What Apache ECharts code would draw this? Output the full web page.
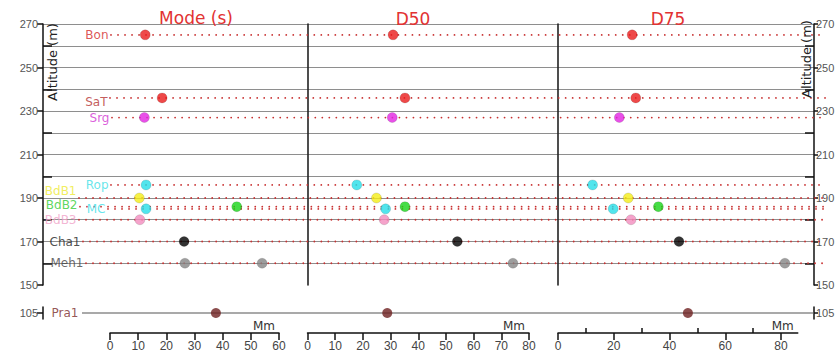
<!DOCTYPE html>
<html><head><meta charset="utf-8">
<script src="https://cdn.jsdelivr.net/npm/echarts@6/dist/echarts.min.js"></script>
<style>html,body{margin:0;padding:0;background:#fff}#c{width:838px;height:356px}</style>
</head><body><div id="c"></div>
<script>
// ---------------- DATA ----------------
const stations   = ['Bon','SaT','Srg','Rop','BdB1','BdB2','MC','BdB3','Cha1','Meh1'];
const altitudes  = [265, 236, 227, 196, 190, 186, 185, 180, 170, 160];
const modeValues = [12.5, 18.5, 12.2, 12.8, 10.4, 45.0, 12.8, 10.6, 26.3, 26.6];
const modeSecondStations = ['Meh1'];
const modeSecondValues   = [54.0];
const d50Values  = [30.9, 35.2, 30.6, 17.8, 24.9, 35.2, 28.2, 27.7, 54.1, 74.2];
const d75Values  = [26.6, 27.9, 22.0, 12.4, 25.2, 36.0, 19.8, 26.2, 43.4, 81.4];
const lowStation  = 'Pra1';
const lowAltitude = 105;
const lowValues   = [37.6, 28.8, 46.6];          // Mode, D50, D75
const panelTitles = ['Mode (s)', 'D50', 'D75'];
const altitudeTickLabels = [150, 170, 190, 210, 230, 250, 270];
const altitudeMinorTicks = [160, 180, 200, 220, 240, 260];
const modeAxisTicks = [0, 10, 20, 30, 40, 50, 60];
const d50AxisTicks  = [0, 10, 20, 30, 40, 50, 60, 70, 80];
const d75AxisLabels = [0, 20, 40, 60, 80];
const d75MinorTicks = [10, 30, 50, 70];
const xAxisName = 'Mm';
const yAxisName = 'Altitude (m)';

// ---------------- STYLE / LAYOUT ----------------
const DOT_COLORS   = ['#ea1c1c','#ea1c1c','#e224e2','#26dfe8','#f4ee18','#18d418','#26dfe8','#f28cbe','#000000','#848484'];
const LABEL_COLORS = ['#d42a2a','#b43232','#d234d2','#3fe0e6','#eeea34','#34cc34','#3fe0e8','#f0a2c8','#222222','#444444'];
const LOW_DOT_COLOR = '#6e2020', LOW_LABEL_COLOR = '#7a2a2a';
const GUIDE_START  = [68, 67, 69, 68, 36, 37, 65, 36, 40, 43]; // px from left axis
const LABEL_OFFSET = [[0,0],[0,4],[0,0],[0,0],[0,-7],[0,-2],[0,0],[0,0],[0,0],[0,0]];
const LOW_START = 39;
const FONT = 'DejaVu Sans';
const L = { axisLeft: 43, axisRight: 814, top: 24, bottom: 285, guideEnd: 826, lowTop: 307, lowHeight: 12, xAxisTop: 332 };
const PANELS = [
  { left: 43,    right: 307.5, zero: 110,   ppu: 169 / 60,   axisEnd: 60 },
  { left: 307.5, right: 556,   zero: 307.5, ppu: 221.5 / 80, axisEnd: 80 },
  { left: 556,   right: 814,   zero: 558,   ppu: 223 / 80,   axisEnd: 86 }
];
const TITLE_POS = [[196, 18], [413, 19], [668, 19]];
const TITLE_COLOR = '#e23232';

// ---------------- BUILD ----------------
const grids = [], xAxes = [], yAxes = [], series = [];
const H = L.bottom - L.top;
const altMin = altitudeTickLabels[0], altMax = altitudeTickLabels[altitudeTickLabels.length - 1];
const pxPerM = H / (altMax - altMin);
const hiddenX = (g, min, max) => { xAxes.push({ gridIndex: g, type: 'value', min, max, show: false }); return xAxes.length - 1; };
const hiddenY = (g, min, max) => { yAxes.push({ gridIndex: g, type: 'value', min, max, show: false }); return yAxes.length - 1; };
const addGrid = (g) => { grids.push(Object.assign({ containLabel: false }, g)); return grids.length - 1; };
const axisLineStyle = { color: '#111', width: 1.5 };

// split (grid) lines 160..270
const splitMin = altitudeMinorTicks[0];
const gSplit = addGrid({ left: L.axisLeft, top: L.top, width: L.axisRight - L.axisLeft, height: (altMax - splitMin) * pxPerM });
hiddenX(gSplit, 0, 1);
yAxes.push({ gridIndex: gSplit, type: 'value', min: splitMin, max: altMax, interval: 10,
  axisLine: { show: false }, axisTick: { show: false }, axisLabel: { show: false },
  splitLine: { show: true, lineStyle: { color: '#8e8e8e', width: 1 } } });

// guide dotted lines + station labels
const gGuide = addGrid({ left: L.axisLeft, top: L.top, width: L.guideEnd - L.axisLeft, height: H });
const xG = hiddenX(gGuide, 0, L.guideEnd - L.axisLeft);
const yG = hiddenY(gGuide, altMin, altMax);
stations.forEach((s, i) => {
  series.push({ type: 'line', xAxisIndex: xG, yAxisIndex: yG, symbol: 'none', silent: true, z: 3,
    lineStyle: { color: '#c83030', width: 1.8, type: [0.01, 7], cap: 'round' },
    data: [[GUIDE_START[i], altitudes[i]], [L.guideEnd - L.axisLeft, altitudes[i]]] });
});
series.push({ type: 'scatter', xAxisIndex: xG, yAxisIndex: yG, symbolSize: 1, z: 6, silent: true,
  itemStyle: { color: 'rgba(0,0,0,0)' },
  data: stations.map((s, i) => ({ value: [GUIDE_START[i], altitudes[i]],
    label: { show: true, position: 'left', distance: 2, formatter: s, color: LABEL_COLORS[i],
      fontFamily: FONT, fontSize: 12, lineHeight: 11, offset: LABEL_OFFSET[i] } })) });

// frame axes (left / right altitude)
const gFrame = addGrid({ left: L.axisLeft, top: L.top, width: L.axisRight - L.axisLeft, height: H });
hiddenX(gFrame, 0, 1);
const tickLabelStyle = { color: '#555', fontSize: 11, fontFamily: 'Liberation Sans' };
['left', 'right'].forEach(pos => {
  yAxes.push({ gridIndex: gFrame, type: 'value', position: pos, min: altMin, max: altMax,
    axisLine: { show: true, lineStyle: axisLineStyle },
    axisTick: { show: true, customValues: altitudeTickLabels, length: pos === 'left' ? 6 : 4, lineStyle: axisLineStyle },
    axisLabel: Object.assign({ customValues: altitudeTickLabels, margin: pos === 'left' ? 5 : 2 }, tickLabelStyle),
    splitLine: { show: false } });
  yAxes.push({ gridIndex: gFrame, type: 'value', position: pos, min: altMin, max: altMax,
    axisLine: { show: false },
    axisTick: { show: true, inside: true, customValues: altitudeMinorTicks, length: 9, lineStyle: axisLineStyle },
    axisLabel: { show: false }, splitLine: { show: false } });
});

// panels
const panelValues = [modeValues, d50Values, d75Values];
PANELS.forEach((p, k) => {
  const g = addGrid({ left: p.left, top: L.top, width: p.right - p.left, height: H });
  const xi = hiddenX(g, (p.left - p.zero) / p.ppu, (p.right - p.zero) / p.ppu);
  yAxes.push({ gridIndex: g, type: 'value', min: altMin, max: altMax, position: 'left',
    axisLine: { show: k > 0, lineStyle: { color: '#222', width: 1.6 } },
    axisTick: { show: false }, axisLabel: { show: false }, splitLine: { show: false } });
  const yi = yAxes.length - 1;
  const data = panelValues[k].map((v, i) => ({ value: [v, altitudes[i]], name: stations[i],
    itemStyle: { color: DOT_COLORS[i] } }));
  if (k === 0) {
    modeSecondStations.forEach((s, j) => {
      const i = stations.indexOf(s);
      data.push({ value: [modeSecondValues[j], altitudes[i]], name: s, itemStyle: { color: DOT_COLORS[i] } });
    });
  }
  series.push({ type: 'scatter', xAxisIndex: xi, yAxisIndex: yi, symbolSize: 10, z: 8, data,
    itemStyle: { borderColor: 'rgba(0,0,0,0.25)', borderWidth: 0.6 } });

  // low row (Pra1)
  const gl = addGrid({ left: p.left, top: L.lowTop, width: p.right - p.left, height: L.lowHeight });
  const xl = hiddenX(gl, (p.left - p.zero) / p.ppu, (p.right - p.zero) / p.ppu);
  const yl = hiddenY(gl, lowAltitude - 1, lowAltitude + 1);
  series.push({ type: 'scatter', xAxisIndex: xl, yAxisIndex: yl, symbolSize: 10, z: 8,
    data: [{ value: [lowValues[k], lowAltitude], name: lowStation, itemStyle: { color: LOW_DOT_COLOR } }] });

  // bottom Mm axes
  const gb = addGrid({ left: p.zero, top: L.xAxisTop, width: p.axisEnd * p.ppu, height: 1 });
  hiddenY(gb, 0, 1);
  const labelVals = k === 0 ? modeAxisTicks : (k === 1 ? d50AxisTicks : d75AxisLabels);
  xAxes.push({ gridIndex: gb, type: 'value', position: 'bottom', min: 0, max: p.axisEnd,
    name: xAxisName, nameLocation: 'end', nameGap: -4,
    nameTextStyle: { align: 'right', verticalAlign: 'bottom', color: '#333', fontSize: 12, fontFamily: FONT, padding: [0, 0, 1, 0] },
    axisLine: { show: true, lineStyle: axisLineStyle },
    axisTick: { show: true, customValues: labelVals, length: 7, lineStyle: axisLineStyle },
    axisLabel: { customValues: labelVals, color: '#444', fontSize: 12, fontFamily: 'Liberation Sans', margin: 7 },
    splitLine: { show: false } });
  if (k === 2) {
    xAxes.push({ gridIndex: gb, type: 'value', position: 'bottom', min: 0, max: p.axisEnd,
      axisLine: { show: false },
      axisTick: { show: true, inside: true, customValues: d75MinorTicks, length: 5, lineStyle: axisLineStyle },
      axisLabel: { show: false }, splitLine: { show: false } });
  }
});

// low frame (Pra1 line + 105 axes)
const gLow = addGrid({ left: L.axisLeft, top: L.lowTop, width: L.axisRight - L.axisLeft, height: L.lowHeight });
const xLow = hiddenX(gLow, 0, L.axisRight - L.axisLeft);
['left', 'right'].forEach(pos => {
  yAxes.push({ gridIndex: gLow, type: 'value', position: pos, min: lowAltitude - 1, max: lowAltitude + 1,
    axisLine: { show: true, lineStyle: axisLineStyle },
    axisTick: { show: true, customValues: [lowAltitude], length: pos === 'left' ? 6 : 4, lineStyle: axisLineStyle },
    axisLabel: Object.assign({ customValues: [lowAltitude], margin: pos === 'left' ? 5 : 2 }, tickLabelStyle),
    splitLine: { show: false } });
});
const yLow = yAxes.length - 1;
series.push({ type: 'line', xAxisIndex: xLow, yAxisIndex: yLow, symbol: 'none', silent: true, z: 3,
  lineStyle: { color: '#555', width: 1.2 },
  data: [[LOW_START, lowAltitude], [L.axisRight - L.axisLeft, lowAltitude]] });
series.push({ type: 'scatter', xAxisIndex: xLow, yAxisIndex: yLow, symbolSize: 1, z: 6, silent: true,
  itemStyle: { color: 'rgba(0,0,0,0)' },
  data: [{ value: [LOW_START, lowAltitude], label: { show: true, position: 'left', distance: 3,
    formatter: lowStation, color: LOW_LABEL_COLOR, fontFamily: FONT, fontSize: 12, lineHeight: 11 } }] });

// titles and axis names
const graphic = panelTitles.map((t, k) => ({ type: 'text', x: TITLE_POS[k][0], y: TITLE_POS[k][1], z: 20,
  style: { text: t, fill: TITLE_COLOR, font: '17px "' + FONT + '"', align: 'center', verticalAlign: 'middle' } }));
[[52, 62], [806, 59]].forEach(([x, y]) => graphic.push({ type: 'text', x, y, rotation: Math.PI / 2, z: 20,
  style: { text: yAxisName, fill: '#222', font: '13px "' + FONT + '"', align: 'center', verticalAlign: 'middle' } }));

const chart = echarts.init(document.getElementById('c'), null, { renderer: 'svg' });
chart.setOption({ backgroundColor: '#fff', animation: false, grid: grids, xAxis: xAxes, yAxis: yAxes, series, graphic });
</script></body></html>
